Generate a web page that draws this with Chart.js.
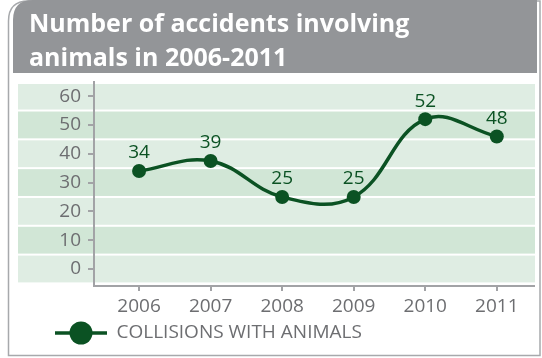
<!DOCTYPE html>
<html>
<head>
<meta charset="utf-8">
<script src="https://cdn.jsdelivr.net/npm/chart.js@4"></script>
<style>
html, body { margin: 0; padding: 0; background: #fff; }
</style>
</head>
<body>
<canvas id="chart" width="542" height="358"></canvas>
<script>
// values
var years = ['2006', '2007', '2008', '2009', '2010', '2011'],
    collisions = [34, 39, 25, 25, 52, 48],          // printed above the markers
    markerLevels = [34, 37.5, 25, 25, 52, 46],      // where the markers actually sit
    yTicks = [0, 10, 20, 30, 40, 50, 60],
    titleLines = ['Number of accidents involving', 'animals in 2006-2011'],
    seriesName = 'COLLISIONS WITH ANIMALS';

var green = '#0b5223',
    textGray = '#6d6e71',
    axisGray = '#a2a3a6',
    frameGray = '#a7a9ac',
    headerGray = '#939598',
    bandLight = '#dfede3',
    bandDark = '#d1e6d6',
    font = '"Open Sans", "Noto Sans", sans-serif';

// legend marker: short line with a big dot
var marker = document.createElement('canvas');
marker.width = 52;
marker.height = 24;
var mctx = marker.getContext('2d');
mctx.strokeStyle = green;
mctx.fillStyle = green;
mctx.lineWidth = 3.5;
mctx.beginPath();
mctx.moveTo(0, 12);
mctx.lineTo(52, 12);
mctx.stroke();
mctx.beginPath();
mctx.arc(26, 12, 11.5, 0, Math.PI * 2);
mctx.fill();

function roundTopLeft(ctx, x1, y1, x2, y2, r) {
    ctx.beginPath();
    ctx.moveTo(x1, y2);
    ctx.lineTo(x1, y1 + r);
    ctx.quadraticCurveTo(x1, y1, x1 + r, y1);
    ctx.lineTo(x2, y1);
    ctx.lineTo(x2, y2);
    ctx.closePath();
}

var backdrop = {
    id: 'backdrop',
    beforeDraw: function(chart) {
        var ctx = chart.ctx,
            y = chart.scales.y,
            area = chart.chartArea;
        ctx.save();
        ctx.fillStyle = '#fff';
        ctx.fillRect(0, 0, chart.width, chart.height);

        // outer frame
        roundTopLeft(ctx, 8.5, 1, 540, 355.5, 20);
        ctx.strokeStyle = frameGray;
        ctx.lineWidth = 1.5;
        ctx.stroke();

        // header
        roundTopLeft(ctx, 13, 0, 537, 73, 20);
        ctx.fillStyle = headerGray;
        ctx.fill();
        ctx.fillStyle = '#fff';
        ctx.font = 'bold 25px ' + font;
        ctx.textBaseline = 'alphabetic';
        ctx.fillText(titleLines[0], 29, 31.5);
        ctx.fillText(titleLines[1], 29, 66);

        // horizontal bands round each tick
        yTicks.forEach(function(v, i) {
            var top = Math.max(y.getPixelForValue(v + 5) + 1, area.top + 2),
                bottom = y.getPixelForValue(v - 5) - 1;
            ctx.fillStyle = i % 2 === 0 ? bandLight : bandDark;
            ctx.fillRect(18, top, 535 - 18, bottom - top);
        });
        ctx.restore();
    }
};

var valueLabels = {
    id: 'valueLabels',
    afterDatasetsDraw: function(chart) {
        var ctx = chart.ctx,
            meta = chart.getDatasetMeta(0);
        ctx.save();
        ctx.fillStyle = green;
        ctx.font = '19px ' + font;
        ctx.textAlign = 'center';
        ctx.textBaseline = 'middle';
        meta.data.forEach(function(pt, i) {
            ctx.fillText(String(collisions[i]), pt.x, pt.y - 18);
        });
        ctx.restore();
    }
};

var chart = new Chart(document.getElementById('chart'), {
    type: 'line',
    data: {
        datasets: [{
            label: seriesName,
            data: markerLevels.map(function(v, i) { return {x: i, y: v}; }),
            borderColor: green,
            backgroundColor: green,
            borderWidth: 3.5,
            pointRadius: 7,
            pointBorderWidth: 0,
            pointBackgroundColor: green,
            tension: 0.4,
            fill: false
        }]
    },
    options: {
        responsive: false,
        animation: false,
        layout: {padding: {left: 45, right: 8, top: 82, bottom: 5.5}},
        plugins: {
            title: {display: false},
            tooltip: {enabled: false},
            legend: {
                position: 'bottom',
                align: 'start',
                labels: {
                    usePointStyle: true,
                    pointStyle: marker,
                    pointStyleWidth: 52,
                    padding: 10,
                    color: textGray,
                    font: {family: font, size: 19}
                }
            }
        },
        scales: {
            x: {
                type: 'linear',
                min: -0.63,
                max: 5.52,
                afterBuildTicks: function(s) {
                    s.ticks = years.map(function(_, i) { return {value: i}; });
                },
                afterFit: function(s) {
                    s.height = 27.5;
                    s.paddingLeft = 0;
                    s.paddingRight = 0;
                },
                ticks: {
                    callback: function(v) { return years[v]; },
                    color: textGray,
                    font: {family: font, size: 19},
                    padding: 4,
                    maxRotation: 0,
                    autoSkip: false
                },
                grid: {drawOnChartArea: false, color: axisGray, lineWidth: 2, tickLength: 5},
                border: {color: axisGray, width: 2}
            },
            y: {
                min: -5.9,
                max: 64.9,
                afterBuildTicks: function(s) {
                    s.ticks = yTicks.map(function(v) { return {value: v}; });
                },
                afterFit: function(s) {
                    s.width = 49;
                    s.paddingTop = 0;
                    s.paddingBottom = 0;
                },
                ticks: {
                    color: textGray,
                    font: {family: font, size: 19},
                    padding: 7
                },
                grid: {drawOnChartArea: false, color: axisGray, lineWidth: 2, tickLength: 6},
                border: {color: axisGray, width: 2}
            }
        }
    },
    plugins: [backdrop, valueLabels]
});
</script>
</body>
</html>
